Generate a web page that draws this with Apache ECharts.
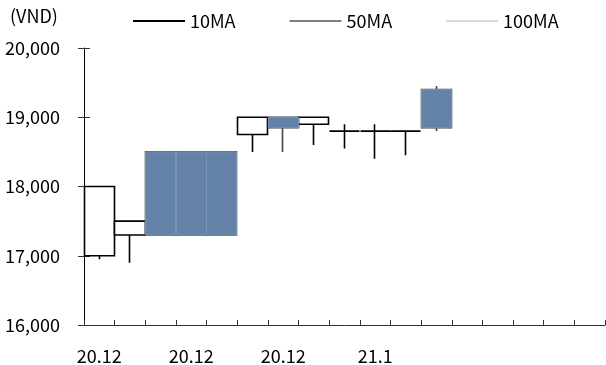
<!DOCTYPE html>
<html><head><meta charset="utf-8">
<script src="https://cdn.jsdelivr.net/npm/echarts@6/dist/echarts.min.js"></script>
<style>html,body{margin:0;padding:0;background:#fff}#c{width:606px;height:365px}</style>
</head><body><div id="c"></div>
<script>
var categories = ['20.12','','','20.12','','','20.12','','','21.1','','','','','','',''];
// [open, close, low, high]
var candles = [
  [17000, 18000, 16950, 18000],
  [17300, 17500, 16900, 17500],
  [18500, 17300, 17300, 18500],
  [18500, 17300, 17300, 18500],
  [18500, 17300, 17300, 18500],
  [18750, 19000, 18500, 19000],
  [19000, 18850, 18500, 19000],
  [18900, 19000, 18600, 19000],
  [18800, 18800, 18550, 18900],
  [18800, 18800, 18400, 18900],
  [18800, 18800, 18450, 18800],
  [19400, 18850, 18800, 19450],
  '-', '-', '-', '-', '-'
];
var ma10 = [];
var ma50 = [];
var ma100 = [];
var yTicks = [16000, 17000, 18000, 19000, 20000];

var bodies = candles.map(function (d) {
  if (d === '-' || d[1] >= d[0]) return '-';
  return [d[0], d[1], Math.min(d[0], d[1]), Math.max(d[0], d[1])];
});

var font = "'Noto Sans CJK KR', 'Noto Sans', sans-serif";
var chart = echarts.init(document.getElementById('c'), null, {renderer: 'canvas'});
chart.setOption({
  animation: false,
  textStyle: {fontFamily: font},
  title: {text: '(VND)', left: 10, top: 7, padding: 0, textStyle: {fontFamily: font, fontSize: 18, fontWeight: 'normal', color: '#000'}},
  legend: {
    data: ['10MA', '50MA', '100MA'],
    left: 133, top: 12, padding: 0, icon: 'rect', itemWidth: 52, itemHeight: 2, itemGap: 54,
    textStyle: {fontFamily: font, fontSize: 18, color: '#000'}
  },
  grid: {left: 84, right: 1, top: 48, bottom: 36},
  xAxis: {
    type: 'category', data: categories, boundaryGap: true,
    axisLine: {lineStyle: {color: '#333', width: 1}},
    axisTick: {show: true, inside: true, length: 5, interval: 0, lineStyle: {color: '#333'}},
    axisLabel: {interval: 0, margin: 22, fontSize: 18, color: '#000', fontFamily: font},
    splitLine: {show: false}
  },
  yAxis: [{
    type: 'value', min: 16000, max: 20000, interval: 1000,
    axisLine: {show: true, lineStyle: {color: '#000'}},
    axisTick: {show: true, length: 6, lineStyle: {color: '#333'}},
    axisLabel: {margin: 24, fontSize: 18, color: '#000', fontFamily: font,
      formatter: function (v) { return v.toLocaleString('en-US'); }},
    splitLine: {show: false}
  }, {
    type: 'value', min: 16000, max: 20000, interval: 1000, position: 'left',
    axisLine: {show: false},
    axisTick: {show: true, inside: true, length: 6, lineStyle: {color: '#333'}},
    axisLabel: {show: false}, splitLine: {show: false}
  }],
  series: [
    {
      type: 'candlestick', data: candles, barWidth: '100%',
      itemStyle: {color: '#fff', color0: '#6482a7', borderColor: '#000', borderColor0: '#444',
        borderColorDoji: '#000', borderWidth: 1.6}
    },
    {
      type: 'candlestick', data: bodies, barWidth: '100%',
      itemStyle: {color: '#fff', color0: '#6482a7', borderColor: '#000', borderColor0: '#7891b2', borderWidth: 1}
    },
    {name: '10MA', type: 'line', data: ma10, color: '#000', lineStyle: {color: '#000', width: 2}, showSymbol: false},
    {name: '50MA', type: 'line', data: ma50, color: '#808080', lineStyle: {color: '#808080', width: 2}, showSymbol: false},
    {name: '100MA', type: 'line', data: ma100, color: '#d9d9d9', lineStyle: {color: '#d9d9d9', width: 2}, showSymbol: false}
  ]
});
</script>
</body></html>
